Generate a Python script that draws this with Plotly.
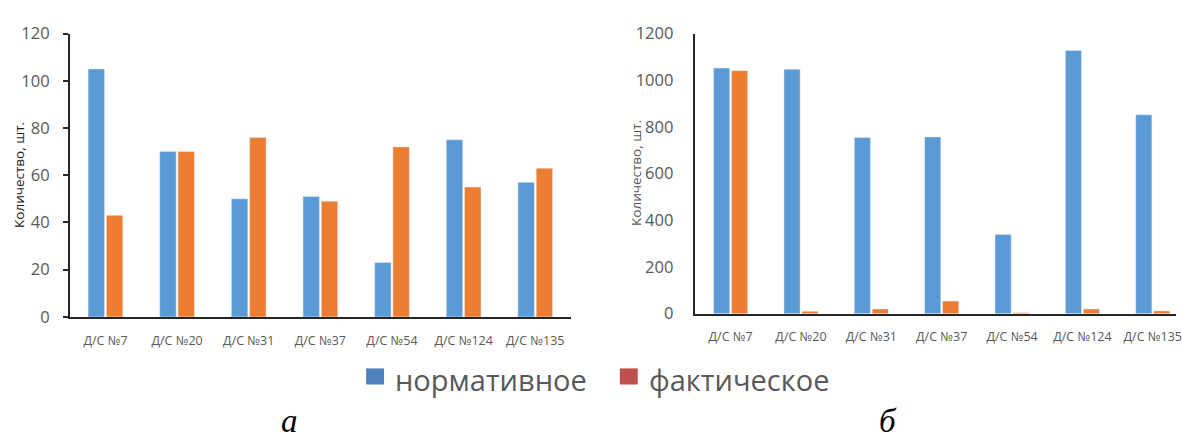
import plotly.graph_objects as go

# Kindergarten labels (same for both panels)
categories = ["Д/С №7", "Д/С №20", "Д/С №31", "Д/С №37", "Д/С №54", "Д/С №124", "Д/С №135"]

# Panel а
norm_a = [105, 70, 50, 51, 23, 75, 57]
fact_a = [43, 70, 76, 49, 72, 55, 63]

# Panel б
norm_b = [1052, 1047, 755, 757, 339, 1127, 852]
fact_b = [1041, 10, 20, 54, 4, 20, 12]

series_names = ["нормативное", "фактическое"]
panel_labels = ["а", "б"]
y_title = "Количество, шт."

BAR_BLUE = "#5b9bd5"
BAR_ORANGE = "#ed7d31"
LEG_BLUE = "#4f81bd"
LEG_RED = "#c0504d"
TICK_GRAY = "#595959"
AXIS = "#262626"
FONT = "Open Sans"

W, H = 1182, 441


def px_x(x):
    return x / W


def px_y(y):
    return 1 - y / H


fig = go.Figure()

fig.add_trace(go.Bar(x=categories, y=norm_a, marker_color=BAR_BLUE, name=series_names[0],
                     xaxis="x", yaxis="y", showlegend=False))
fig.add_trace(go.Bar(x=categories, y=fact_a, marker_color=BAR_ORANGE, name=series_names[1],
                     xaxis="x", yaxis="y", showlegend=False))
fig.add_trace(go.Bar(x=categories, y=norm_b, marker_color=BAR_BLUE, name=series_names[0],
                     xaxis="x2", yaxis="y2", showlegend=False))
fig.add_trace(go.Bar(x=categories, y=fact_b, marker_color=BAR_ORANGE, name=series_names[1],
                     xaxis="x2", yaxis="y2", showlegend=False))

xcommon = dict(type="category", showline=True, linecolor=AXIS, linewidth=1.5, ticks="",
               showgrid=False, zeroline=False, ticklabelstandoff=11,
               tickfont=dict(family=FONT, size=12.5, color=TICK_GRAY), fixedrange=True)
ycommon = dict(showgrid=False, zeroline=False, showline=True, linecolor=AXIS, linewidth=1.5,
               tickfont=dict(family=FONT, size=16.5, color=TICK_GRAY), fixedrange=True)

fig.update_layout(
    width=W, height=H, autosize=False,
    margin=dict(l=0, r=0, t=0, b=0),
    paper_bgcolor="white", plot_bgcolor="white",
    barmode="group", bargap=0.49, bargroupgap=0.1,
    xaxis=dict(domain=[px_x(70), px_x(574)], range=[-0.5, 6.5], anchor="y", **xcommon),
    yaxis=dict(domain=[px_y(321.7), px_y(22.7)], range=[0, 120], dtick=20, anchor="x",
               ticks="outside", ticklen=5, tickcolor=AXIS, tickwidth=1.5,
               ticklabelstandoff=10, **ycommon),
    xaxis2=dict(domain=[px_x(699), 1.0], range=[-0.5, 6.33], anchor="y2", **xcommon),
    yaxis2=dict(domain=[px_y(318.3), px_y(22.7)], range=[0, 1200], dtick=200, anchor="x2",
                ticks="", ticklabelstandoff=17, **ycommon),
    showlegend=False,
)

annotations = [
    dict(text=y_title, x=px_x(19), y=px_y(172), xref="paper", yref="paper",
         textangle=-90, showarrow=False, xanchor="center", yanchor="middle",
         font=dict(family=FONT, size=13.5, color="#1a1a1a")),
    dict(text=y_title, x=px_x(639), y=px_y(170), xref="paper", yref="paper",
         textangle=-90, showarrow=False, xanchor="center", yanchor="middle",
         font=dict(family=FONT, size=13.5, color=TICK_GRAY)),
    # legend texts
    dict(text=series_names[0], x=px_x(395), y=px_y(388), xref="paper", yref="paper",
         showarrow=False, xanchor="left", yanchor="middle",
         font=dict(family=FONT, size=29, color=TICK_GRAY)),
    dict(text=series_names[1], x=px_x(650), y=px_y(388), xref="paper", yref="paper",
         showarrow=False, xanchor="left", yanchor="middle",
         font=dict(family=FONT, size=29, color=TICK_GRAY)),
    # panel letters
    dict(text="<i>" + panel_labels[0] + "</i>", x=px_x(291), y=px_y(431), xref="paper", yref="paper",
         showarrow=False, xanchor="center", yanchor="middle",
         font=dict(family="Liberation Serif", size=33, color="black")),
    dict(text="<i>" + panel_labels[1] + "</i>", x=px_x(893), y=px_y(431), xref="paper", yref="paper",
         showarrow=False, xanchor="center", yanchor="middle",
         font=dict(family="Liberation Serif", size=33, color="black")),
]

shapes = [
    dict(type="rect", xref="paper", yref="paper", x0=px_x(368), x1=px_x(386),
         y0=px_y(393), y1=px_y(376), fillcolor=LEG_BLUE, line=dict(width=0)),
    dict(type="rect", xref="paper", yref="paper", x0=px_x(623), x1=px_x(641),
         y0=px_y(393), y1=px_y(376), fillcolor=LEG_RED, line=dict(width=0)),
]

fig.update_layout(annotations=annotations, shapes=shapes)

fig.write_html("out.html")
